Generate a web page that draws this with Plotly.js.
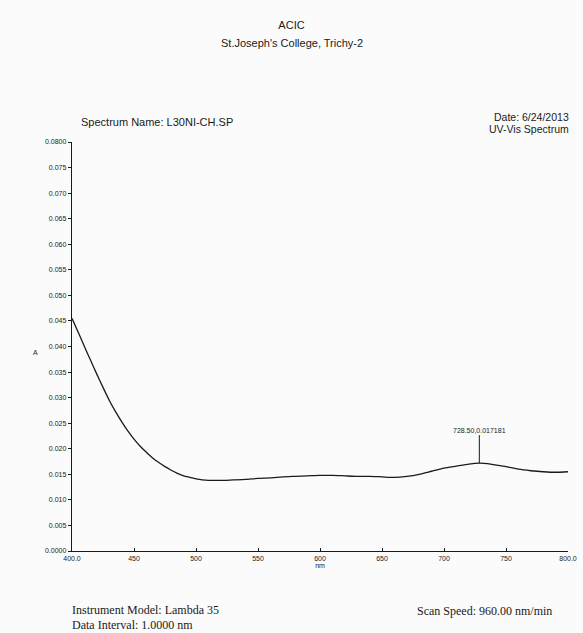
<!DOCTYPE html>
<html>
<head>
<meta charset="utf-8">
<script src="https://cdn.plot.ly/plotly-3.0.1.min.js"></script>
<style>
html,body{margin:0;padding:0;background:#fbfbfb;}
#chart{width:583px;height:633px;}
</style>
</head>
<body>
<div id="chart"></div>
<script>
// Wavelength (nm) and absorbance (A)
const wavelength = [400,405,410,415,420,425,430,435,440,445,450,455,460,465,470,475,480,485,490,495,500,505,510,515,520,530,540,550,560,570,580,590,600,610,620,630,640,650,660,670,680,690,700,710,720,728.5,735,740,750,760,770,780,790,800];
const absorbance = [0.0455,0.0428,0.0400,0.0373,0.0346,0.0320,0.0295,0.0273,0.0253,0.0235,0.0219,0.0205,0.0193,0.0182,0.0173,0.0165,0.0158,0.0152,0.0147,0.0144,0.0141,0.0139,0.0138,0.0138,0.0138,0.0139,0.0140,0.0142,0.0143,0.0145,0.0146,0.0147,0.0148,0.0148,0.0147,0.0146,0.0146,0.0145,0.0144,0.0146,0.0150,0.0156,0.0162,0.0166,0.0170,0.017181,0.0171,0.0169,0.0165,0.0160,0.0157,0.0155,0.0154,0.0155];

const peakX = 728.50;
const peakY = 0.017181;
const peakLabel = "728.50,0.017181";

const xTickVals = [400,450,500,550,600,650,700,750,800];
const xTickText = ["400.0","450","500","550","600","650","700","750","800.0"];
const yTickVals = [0,0.005,0.010,0.015,0.020,0.025,0.030,0.035,0.040,0.045,0.050,0.055,0.060,0.065,0.070,0.075,0.080];
const yTickText = ["0.0000","0.005","0.010","0.015","0.020","0.025","0.030","0.035","0.040","0.045","0.050","0.055","0.060","0.065","0.070","0.075","0.0800"];

const titleMain = "ACIC";
const titleSub = "St.Joseph's College, Trichy-2";
const spectrumName = "Spectrum Name: L30NI-CH.SP";
const dateText = "Date: 6/24/2013";
const typeText = "UV-Vis Spectrum";
const instrumentText = "Instrument Model: Lambda 35";
const intervalText = "Data Interval: 1.0000 nm";
const speedText = "Scan Speed: 960.00 nm/min";

const W = 583, H = 633;
const mL = 72, mR = 15, mT = 142, mB = 82;
const pw = W - mL - mR, ph = H - mT - mB;
function px(x){ return (x - mL) / pw; }
function py(y){ return (H - mB - y) / ph; }

const sans = "Liberation Sans, Arial, sans-serif";
const serif = "Liberation Serif, Times New Roman, serif";
const ink = "#1a1a1a";

const trace = {
  x: wavelength, y: absorbance, type: "scatter", mode: "lines",
  line: {color: ink, width: 1.3, shape: "spline", smoothing: 0.6}, hoverinfo: "skip", showlegend: false
};

const layout = {
  width: W, height: H,
  margin: {l: mL, r: mR, t: mT, b: mB},
  paper_bgcolor: "#fbfbfb", plot_bgcolor: "#fbfbfb",
  font: {family: sans, color: ink},
  showlegend: false,
  title: {text: titleMain, x: 0.5, xref: "container", xanchor: "center",
          y: 1 - 25/H, yref: "container", yanchor: "middle",
          font: {family: sans, size: 11, color: ink}},
  xaxis: {
    range: [400, 800], tickmode: "array", tickvals: xTickVals, ticktext: xTickText,
    ticks: "inside", ticklen: 3, tickcolor: ink, tickwidth: 1,
    showline: true, linecolor: ink, linewidth: 1.2, showgrid: false, zeroline: false,
    tickfont: {family: sans, size: 7, color: ink},
    title: {text: "nm", standoff: 2, font: {family: sans, size: 7, color: ink}}
  },
  yaxis: {
    range: [0, 0.08], tickmode: "array", tickvals: yTickVals, ticktext: yTickText,
    ticks: "outside", ticklen: 3, tickcolor: ink, tickwidth: 1,
    showline: true, linecolor: ink, linewidth: 1.2, showgrid: false, zeroline: false,
    tickfont: {family: sans, size: 7, color: ink}
  },
  annotations: [
    {x: peakX, y: peakY, xref: "x", yref: "y", text: peakLabel, showarrow: true,
     arrowhead: 0, arrowwidth: 1, arrowcolor: ink, ax: 0, ay: -33,
     font: {family: sans, size: 7, color: ink}},
    {x: px(291.5), xref: "paper", y: py(43), yref: "paper", text: titleSub, showarrow: false,
     xanchor: "center", yanchor: "middle", font: {family: sans, size: 11, color: ink}},
    {x: px(79), y: py(122), xref: "paper", yref: "paper", text: spectrumName, showarrow: false,
     xanchor: "left", yanchor: "middle", font: {family: sans, size: 11, color: ink}},
    {x: px(571), y: py(117), xref: "paper", yref: "paper", text: dateText, showarrow: false,
     xanchor: "right", yanchor: "middle", font: {family: sans, size: 10.5, color: ink}},
    {x: px(571), y: py(129), xref: "paper", yref: "paper", text: typeText, showarrow: false,
     xanchor: "right", yanchor: "middle", font: {family: sans, size: 10.5, color: ink}},
    {x: px(35), y: py(352), xref: "paper", yref: "paper", text: "A", showarrow: false,
     xanchor: "center", yanchor: "middle", font: {family: sans, size: 7, color: ink}},
    {x: px(70), y: py(610), xref: "paper", yref: "paper", text: instrumentText, showarrow: false,
     xanchor: "left", yanchor: "middle", font: {family: serif, size: 12, color: ink}},
    {x: px(70), y: py(625), xref: "paper", yref: "paper", text: intervalText, showarrow: false,
     xanchor: "left", yanchor: "middle", font: {family: serif, size: 12, color: ink}},
    {x: px(415), y: py(611), xref: "paper", yref: "paper", text: speedText, showarrow: false,
     xanchor: "left", yanchor: "middle", font: {family: serif, size: 12, color: ink}}
  ]
};

Plotly.newPlot("chart", [trace], layout, {displayModeBar: false, staticPlot: true});
</script>
</body>
</html>
